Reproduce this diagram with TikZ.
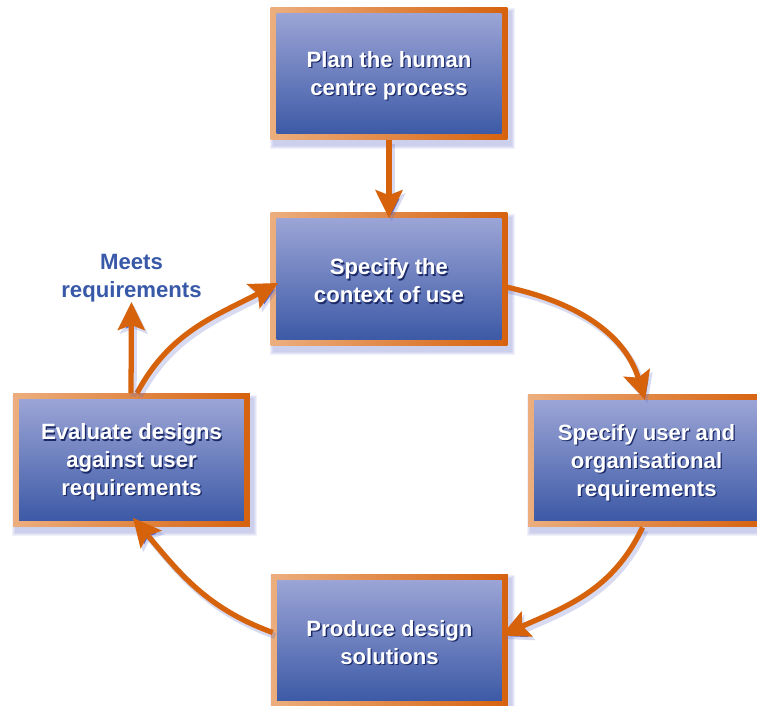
\documentclass[tikz,border=0pt]{standalone}
\usepackage{fontspec}
\setmainfont{Liberation Sans}
\usetikzlibrary{arrows.meta,calc}

\definecolor{borderL}{RGB}{236,174,126}
\definecolor{borderR}{RGB}{214,98,14}
\definecolor{fillT}{RGB}{160,168,216}
\definecolor{fillB}{RGB}{56,86,164}
\definecolor{flow}{RGB}{214,98,12}
\definecolor{labelshadow}{RGB}{28,42,104}
\definecolor{boxshadow}{RGB}{96,110,200}
\definecolor{meetsblue}{RGB}{56,88,168}

\tikzset{
  procbox/.style={rectangle, inner sep=0pt, minimum width=4.74cm, minimum height=2.66cm,
    left color=borderL, right color=borderR,
    path picture={\shade[top color=fillT, bottom color=fillB]
      ([shift={(0.12cm,-0.12cm)}]path picture bounding box.north west) rectangle
      ([shift={(-0.12cm,0.12cm)}]path picture bounding box.south east);}},
  boxlabel/.style={align=center, text=white, inner sep=0pt,
    font=\fontsize{12.6}{15.9}\selectfont\bfseries},
  flowarrow/.style={draw=flow, line width=3pt,
    -{Stealth[length=5.6mm, width=5.4mm, inset=1mm]},
    preaction={draw=boxshadow, draw opacity=0.25, line width=3.6pt,
      transform canvas={shift={(0.05cm,-0.07cm)}}}},
}

% a process box: soft shadow, bordered gradient body, shadowed white label
\newcommand\stagebox[3]{%
  \foreach \sr in {1,...,4}{%
    \fill[boxshadow, opacity=0.09]
      ($(#2)+(-118.5+3-\sr,-66.5+5-\sr)$) rectangle ($(#2)+(118.5+3+\sr,66.5+5+\sr)$);
  }
  \node[procbox] (#1) at (#2) {};
  \node[boxlabel, text=labelshadow] (#1-shadow) at ($(#1.center)+(1.3,3.3)$) {#3};
  \node[boxlabel] (#1-label) at ($(#1.center)+(0,2)$) {#3};
}

\begin{document}
\begin{tikzpicture}[x=0.02cm, y=-0.02cm]
  \useasboundingbox (0,0) rectangle (757,706);
  \clip (0,0) rectangle (757,706);
  \fill[white] (0,0) rectangle (757,706);

  \stagebox{plan}{389,73.5}{Plan the human\\centre process}
  \stagebox{context}{389,279}{Specify the\\context of use}
  \stagebox{userreq}{646.5,460.5}{Specify user and\\organisational\\requirements}
  \stagebox{design}{389.5,640.5}{Produce design\\solutions}
  \stagebox{evaluate}{131.5,460}{Evaluate designs\\against user\\requirements}

  \node[align=center, text=meetsblue, inner sep=0pt,
    font=\fontsize{12.6}{15.9}\selectfont\bfseries] (meets) at (131.5,278) {Meets\\requirements};
  \coordinate (meetsend) at (131.5,302);

  \draw[flowarrow] (plan.south) -- ($(context.north)+(0,6)$);
  \draw[flowarrow] ($(context.east)+(-2,8)$) to[out=-12, in=107] ($(userreq.north)+(-1.5,6)$);
  \draw[flowarrow] ($(userreq.south)+(-4,0)$) to[out=-115, in=24] ($(design.east)+(-7,-5)$);
  \draw[flowarrow] ($(design.west)+(2,-8)$) to[out=160, in=-50] ($(evaluate.south)+(1.5,-9)$);
  \draw[flowarrow] ($(evaluate.north)+(5.5,0)$) to[out=62, in=-152] ($(context.west)+(8,4)$);
  \draw[flowarrow] ($(evaluate.north)+(-0.5,0)$) -- (meetsend);
\end{tikzpicture}
\end{document}
